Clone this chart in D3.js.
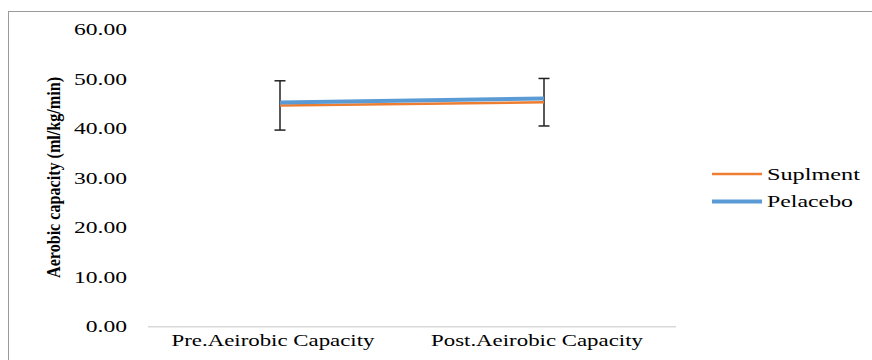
<!DOCTYPE html>
<html>
<head>
<meta charset="utf-8">
<script src="https://cdn.jsdelivr.net/npm/d3@7"></script>
<style>
  html, body { margin: 0; padding: 0; background: #fff; }
  svg { display: block; }
</style>
</head>
<body>
<script>
const categories = ["Pre.Aeirobic Capacity", "Post.Aeirobic Capacity"];
const seriesNames = ["Suplment", "Pelacebo"];
const suplment = [44.7, 45.35];
const pelacebo = [45.3, 46.1];
const suplmentErr = [4.98, 4.8];
const yTicks = [0, 10, 20, 30, 40, 50, 60];
const yTitle = "Aerobic capacity (ml/kg/min)";

const FONT = "'Liberation Serif', 'Times New Roman', Times, 'DejaVu Serif', serif";
const W = 872, H = 360;
const svg = d3.select("body").append("svg").attr("width", W).attr("height", H)
  .attr("font-family", FONT);

// outer border
svg.append("rect").attr("x", 8.5).attr("y", 11.5).attr("width", W + 10).attr("height", H + 10)
  .attr("fill", "none").attr("stroke", "#9a9a9a").attr("stroke-width", 1);

const x = d3.scalePoint().domain(categories).range([148, 676]).padding(0.5);
const y = d3.scaleLinear().domain([0, 60]).range([326.7, 29.7]);

// x axis baseline
svg.append("line").attr("x1", 148).attr("x2", 676).attr("y1", y(0)).attr("y2", y(0))
  .attr("stroke", "#d9d9d9").attr("stroke-width", 1.5);

// y tick labels
const yl = svg.append("g").selectAll("text").data(yTicks).join("text")
  .attr("x", 127).attr("y", d => y(d) + 5.5)
  .attr("text-anchor", "end").attr("font-size", 16.5).attr("fill", "#000")
  .text(d => d3.format(".2f")(d));
let kTick = 1;
yl.each(function(d){ if (d === 60) kTick = 53 / this.getComputedTextLength(); });
yl.each(function(){ const w = this.getComputedTextLength();
  d3.select(this).attr("textLength", w * kTick).attr("lengthAdjust", "spacingAndGlyphs"); });

// x category labels
const xl = svg.append("g").selectAll("text").data(categories).join("text")
  .attr("x", d => x(d) - 7).attr("y", 346)
  .attr("text-anchor", "middle").attr("font-size", 17.5).attr("fill", "#000")
  .text(d => d);
let kCat = 1;
xl.each(function(d, i){ if (i === 0) kCat = 203 / this.getComputedTextLength(); });
xl.each(function(){ const w = this.getComputedTextLength();
  d3.select(this).attr("textLength", w * kCat).attr("lengthAdjust", "spacingAndGlyphs"); });

// y title
svg.append("text")
  .attr("transform", `translate(60,177.5) rotate(-90)`)
  .attr("text-anchor", "middle").attr("font-size", 19).attr("font-weight", "bold").attr("fill", "#000")
  .attr("textLength", 201).attr("lengthAdjust", "spacingAndGlyphs")
  .text(yTitle);

// error bars (Suplment)
const eb = svg.append("g").attr("stroke", "#222").attr("stroke-width", 1.5);
categories.forEach((c, i) => {
  const cx = x(c), top = y(suplment[i] + suplmentErr[i]), bot = y(suplment[i] - suplmentErr[i]);
  eb.append("line").attr("x1", cx).attr("x2", cx).attr("y1", top).attr("y2", bot);
  eb.append("line").attr("x1", cx - 5.5).attr("x2", cx + 5.5).attr("y1", top).attr("y2", top);
  eb.append("line").attr("x1", cx - 5.5).attr("x2", cx + 5.5).attr("y1", bot).attr("y2", bot);
});

const line = d3.line().x((d, i) => x(categories[i])).y(d => y(d));
svg.append("path").datum(suplment).attr("d", line)
  .attr("fill", "none").attr("stroke", "#ED7D31").attr("stroke-width", 2.5);
svg.append("path").datum(pelacebo).attr("d", line)
  .attr("fill", "none").attr("stroke", "#5B9BD5").attr("stroke-width", 4);

// legend
const legColors = ["#ED7D31", "#5B9BD5"], legWidths = [2.5, 4], legY = [174, 201.5];
const lg = svg.append("g");
seriesNames.forEach((n, i) => {
  lg.append("line").attr("x1", 712).attr("x2", 762).attr("y1", legY[i]).attr("y2", legY[i])
    .attr("stroke", legColors[i]).attr("stroke-width", legWidths[i]);
  lg.append("text").attr("x", 767).attr("y", legY[i] + 5.5).attr("font-size", 16).attr("fill", "#000")
    .attr("textLength", i === 0 ? 93 : 86).attr("lengthAdjust", "spacingAndGlyphs")
    .text(n);
});
</script>
</body>
</html>
